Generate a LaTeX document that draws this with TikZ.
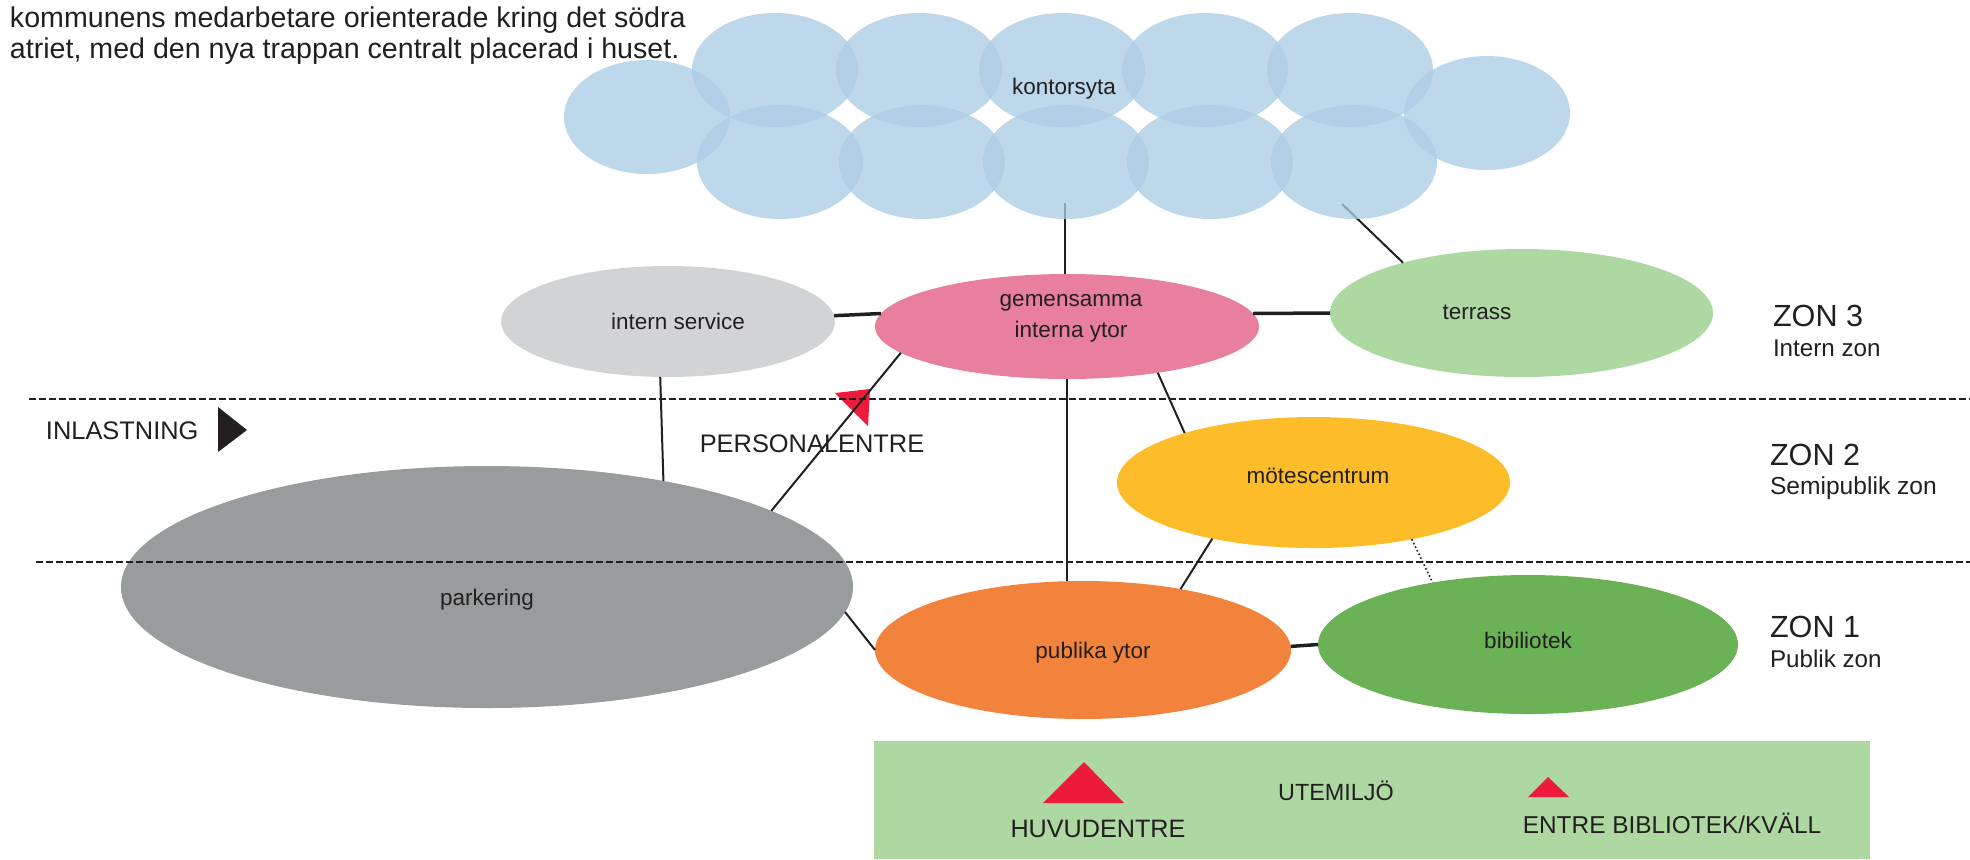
\documentclass[tikz,border=0pt]{standalone}
\usepackage{fontspec}
\setmainfont{Liberation Sans}
\usetikzlibrary{shapes.geometric}
\definecolor{ink}{HTML}{231F20}
\definecolor{cloudc}{RGB}{171,204,229}
\definecolor{internc}{HTML}{D1D3D4}
\definecolor{gemc}{HTML}{E8809D}
\definecolor{terc}{HTML}{AED8A2}
\definecolor{motc}{HTML}{FDBD2A}
\definecolor{parkc}{HTML}{999C9D}
\definecolor{pubc}{HTML}{F1833C}
\definecolor{bibc}{HTML}{6BB155}
\definecolor{entc}{HTML}{ED1A3B}
\begin{document}
\begin{tikzpicture}[x=0.5pt, y=-0.5pt,
  zone/.style={ellipse, inner sep=0pt, outer sep=0pt, draw=none},
  cloudel/.style={zone, fill=cloudc, fill opacity=0.77, minimum width=83pt, minimum height=57pt},
  lbl/.style={anchor=base, inner sep=0pt, outer sep=0pt, text=ink, font=\fontsize{11.25}{13.5}\selectfont},
  lbll/.style={lbl, anchor=base west},
  conn/.style={draw=ink, line width=1pt},
  connmid/.style={draw=ink, line width=1.3pt},
  connbold/.style={draw=ink, line width=1.75pt},
  conndot/.style={draw=ink, line width=0.8pt, dash pattern=on 0.8pt off 1.2pt},
  zoneline/.style={draw=ink, line width=1pt, dash pattern=on 3.25pt off 1.75pt},
  entri/.style={fill=entc, draw=none}
]
\useasboundingbox (0,0) rectangle (1970,859);

% zone ellipses
\node[zone, fill=internc, minimum width=167pt, minimum height=55.5pt] (is) at (668,321.5) {};
\node[zone, fill=gemc, minimum width=192pt, minimum height=52.5pt] (gem) at (1067,326.5) {};
\node[zone, fill=terc, minimum width=191.5pt, minimum height=64pt] (ter) at (1521.5,313) {};
\node[zone, fill=motc, minimum width=196.5pt, minimum height=65.5pt] (mot) at (1313.5,482.5) {};
\node[zone, fill=parkc, minimum width=366pt, minimum height=121pt] (park) at (487,587) {};
\node[zone, fill=pubc, minimum width=208pt, minimum height=69pt] (pub) at (1083,650) {};
\node[zone, fill=bibc, minimum width=210pt, minimum height=69.5pt] (bib) at (1528,644.5) {};
\node[rectangle, fill=terc, inner sep=0pt, outer sep=0pt, minimum width=498pt, minimum height=59pt, anchor=north west] (ute) at (874,741) {};

% entrance markers
\fill[entri] (835,393) -- (870,389) -- (868,426) -- cycle;
\fill[ink] (218,407) -- (218,452) -- (247,430) -- cycle;
\fill[entri] (1043,803) -- (1084,762) -- (1124,803) -- cycle;
\fill[entri] (1528,797) -- (1548,777) -- (1569,797) -- cycle;

% cloud anchor points
\coordinate (k1) at (1065,203);
\coordinate (k2) at (1342,204);

% connectors
\draw[connmid] (k1) -- (k1 |- gem.north);
\draw[conn] (k2) -- (ter.157.2);
\draw[connbold] (is.2) -- (gem.176.5);
\draw[connbold] (gem.4.5) -- (ter.west);
\draw[conn] (is.262) -- (park.31.7);
\draw[conn] (park.15.6) -- (gem.189);
\draw[connmid] (gem.south) -- (gem.south |- pub.north);
\draw[conn] (gem.-27.4) -- (mot.159.4);
\draw[conn] (mot.209.7) -- (pub.32.6);
\draw[conndot] (mot.-30.6) -- (bib.147.5);
\draw[connbold] (pub.1.7) -- (bib.west);
\draw[conn] (park.-4.07) -- (pub.west);

% cloud of office space
\node[cloudel] (c1) at (647,117) {};
\node[cloudel] (c2) at (775,70) {};
\node[cloudel] (c3) at (919,70) {};
\node[cloudel] (c4) at (1062,70) {};
\node[cloudel] (c5) at (1205,70) {};
\node[cloudel] (c6) at (1350,70) {};
\node[cloudel] (c7) at (780,162) {};
\node[cloudel] (c8) at (922,162) {};
\node[cloudel] (c9) at (1066,162) {};
\node[cloudel] (c10) at (1210,162) {};
\node[cloudel] (c11) at (1354,162) {};
\node[cloudel] (c12) at (1487,113) {};

% zone dividers
\draw[zoneline] (29,399) -- (1970,399);
\draw[zoneline] (36,562) -- (1970,562);

% texts
\node[lbll, font=\fontsize{14.3}{16}\selectfont] (t1) at (10,27) {kommunens medarbetare orienterade kring det södra};
\node[lbll, font=\fontsize{14.3}{16}\selectfont] (t2) at (10,58) {atriet, med den nya trappan centralt placerad i huset.};

\node[lbl] (lk) at (1064,94) {kontorsyta};
\node[lbl] (lis) at (678,329) {intern service};
\node[lbl] (lg1) at (1071,306) {gemensamma};
\node[lbl] (lg2) at (1071,337) {interna ytor};
\node[lbl] (lt) at (1477,319) {terrass};
\node[lbl] (lm) at (1318,483) {mötescentrum};
\node[lbl] (lp) at (487,605) {parkering};
\node[lbl] (lpu) at (1093,658) {publika ytor};
\node[lbl] (lb) at (1528,648) {bibiliotek};

\node[lbl, font=\fontsize{12.7}{15}\selectfont] (lpe) at (812,452) {PERSONALENTRE};
\node[lbll, font=\fontsize{12.7}{15}\selectfont] (lin) at (46,439) {INLASTNING};

\node[lbll, font=\fontsize{15.3}{18}\selectfont] (z3) at (1773,326) {ZON 3};
\node[lbll, font=\fontsize{12.1}{14}\selectfont] (z3s) at (1773,356) {Intern zon};
\node[lbll, font=\fontsize{15.3}{18}\selectfont] (z2) at (1770,465) {ZON 2};
\node[lbll, font=\fontsize{12.3}{14}\selectfont] (z2s) at (1770,494) {Semipublik zon};
\node[lbll, font=\fontsize{15.3}{18}\selectfont] (z1) at (1770,637) {ZON 1};
\node[lbll, font=\fontsize{12.1}{14}\selectfont] (z1s) at (1770,667) {Publik zon};

\node[lbl, font=\fontsize{12.6}{15}\selectfont] (lhe) at (1098,837) {HUVUDENTRE};
\node[lbl, font=\fontsize{11.7}{14}\selectfont] (lute) at (1336,800) {UTEMILJÖ};
\node[lbl, font=\fontsize{12.2}{14}\selectfont] (leb) at (1672,833) {ENTRE BIBLIOTEK/KVÄLL};
\end{tikzpicture}
\end{document}
